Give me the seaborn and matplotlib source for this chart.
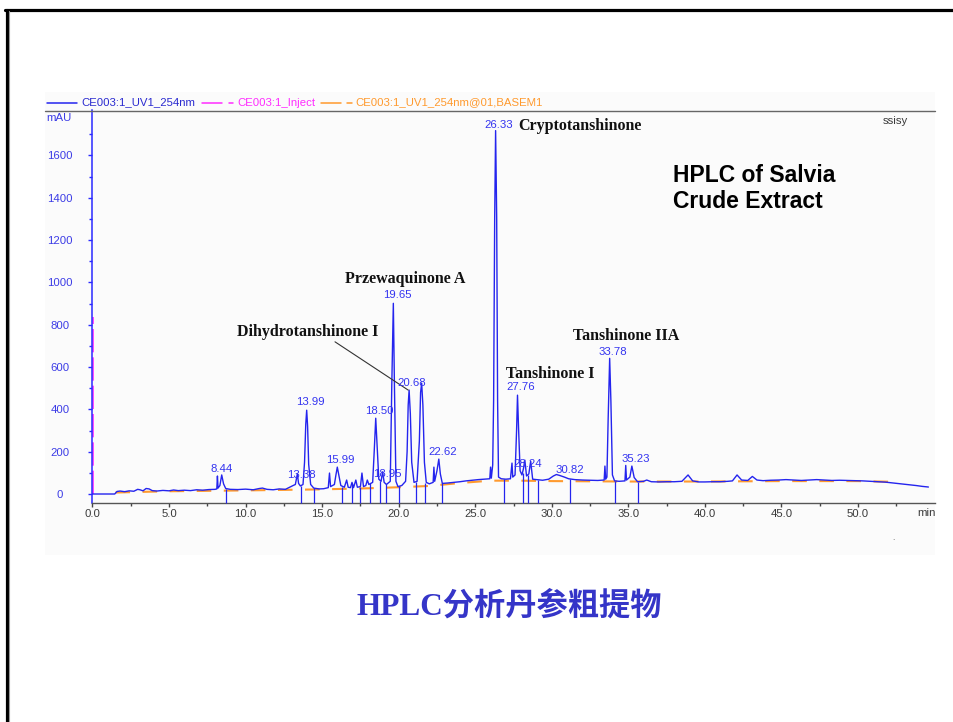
import numpy as np
import pandas as pd
import matplotlib
matplotlib.use("Agg")
import matplotlib.pyplot as plt
from matplotlib.lines import Line2D
from matplotlib.patches import Rectangle
import seaborn as sns

# ---------------------------------------------------------------- data
# UV 254 nm chromatogram trace (retention time in min, absorbance in mAU)
rt_min = [
    0.0, 1.45, 1.6, 1.8, 2.1, 2.4, 2.7, 2.95, 3.1, 3.3, 3.5, 3.7, 3.9, 4.2, 4.6,
    5.0, 5.3, 5.6, 6.0, 6.4, 6.8, 7.2, 7.6, 8.0, 8.12, 8.16, 8.2, 8.32, 8.44,
    8.56, 8.7, 9.0, 9.5, 10.0, 10.5, 10.9, 11.1, 11.4, 11.8, 12.2, 12.6, 12.9,
    13.1, 13.25, 13.38, 13.46, 13.58, 13.75, 13.85, 13.93, 13.99, 14.05, 14.12,
    14.25, 14.45, 14.8, 15.1, 15.4, 15.48, 15.55, 15.8, 15.9, 15.99, 16.1,
    16.22, 16.45, 16.6, 16.7, 16.85, 16.95, 17.05, 17.2, 17.3, 17.5, 17.6,
    17.7, 17.85, 17.95, 18.05, 18.3, 18.4, 18.5, 18.6, 18.7, 18.85, 18.95,
    19.05, 19.2, 19.45, 19.55, 19.65, 19.72, 19.82, 19.95, 20.2, 20.45, 20.55,
    20.62, 20.68, 20.76, 20.85, 21.0, 21.2, 21.35, 21.43, 21.5, 21.58, 21.68,
    21.8, 22.0, 22.25, 22.3, 22.35, 22.5, 22.62, 22.72, 22.85, 23.2, 23.6,
    24.0, 24.4, 24.8, 25.2, 25.6, 25.95, 26.0, 26.05, 26.14, 26.2, 26.27,
    26.33, 26.4, 26.46, 26.52, 26.7, 27.0, 27.3, 27.4, 27.45, 27.6, 27.7,
    27.76, 27.83, 27.93, 28.05, 28.15, 28.24, 28.35, 28.5, 28.62, 28.75, 29.0,
    29.4, 29.8, 30.1, 30.3, 30.5, 30.82, 31.1, 31.5, 32.0, 32.5, 33.0, 33.42,
    33.47, 33.52, 33.6, 33.68, 33.78, 33.86, 33.96, 34.1, 34.4, 34.78, 34.83,
    34.88, 35.1, 35.23, 35.38, 35.6, 36.0, 36.2, 36.5, 37.0, 37.5, 38.0,
    38.5, 38.9, 39.2, 39.6, 40.0, 40.5, 41.0, 41.5, 41.8, 42.1, 42.4, 42.8,
    43.1, 43.4, 43.8, 44.3, 44.8, 45.3, 45.8, 46.3, 46.8, 47.3, 47.8, 48.3,
    48.8, 49.3, 49.8, 50.3, 50.8, 51.3, 51.8, 52.3, 52.8, 53.3, 53.8, 54.2,
    54.6,
]
signal_mau = [
    0, 0, 12, 14, 11, 15, 13, 22, 20, 15, 26, 24, 16, 14, 17,
    15, 19, 16, 18, 16, 20, 18, 21, 22, 24, 85, 28, 40, 90,
    48, 26, 22, 21, 23, 20, 26, 28, 22, 20, 24, 22, 33,
    40, 45, 95, 50, 38, 45, 150, 330, 396, 320, 140,
    45, 28, 24, 25, 30, 99, 35, 45, 90, 127, 85,
    40, 32, 66, 32, 30, 55, 30, 66, 32, 35, 99,
    35, 40, 66, 45, 55, 200, 358, 210, 70, 60, 105,
    55, 45, 60, 520, 901, 520, 60, 35, 40, 60, 200,
    420, 491, 380, 150, 55, 60, 250, 480, 524, 420, 150,
    55, 48, 55, 127, 60, 110, 165, 95, 50, 52, 55,
    58, 62, 65, 68, 70, 72, 127, 75, 137, 443, 1307,
    1717, 1307, 443, 80, 72, 70, 72, 146, 80, 90, 300,
    467, 310, 110, 90, 120, 160, 85, 95, 155, 70, 68,
    65, 70, 85, 92, 88, 80, 72, 68, 66, 65, 64, 66,
    132, 70, 80, 350, 641, 440, 90, 62, 60, 62, 135,
    66, 80, 132, 78, 58, 60, 66, 58, 57, 58, 58,
    60, 90, 62, 57, 57, 58, 58, 60, 62, 90, 66, 64,
    83, 66, 63, 65, 66, 68, 66, 64, 66, 68, 66, 64,
    65, 64, 63, 62, 60, 58, 56, 52, 48, 44, 40, 36,
    33,
]

# BASEM1 baseline (orange, dashed)
base_rt = [1.5, 5.0, 10.0, 15.0, 18.0, 20.0, 22.0, 24.0, 26.0, 28.0, 30.0,
           35.0, 40.0, 45.0, 50.0, 52.0]
base_mau = [7, 13, 17, 22, 27, 32, 38, 52, 63, 63, 61, 59, 59, 61, 61, 58]

# injection marker
inject_rt = [0.04, 0.04]
inject_mau = [0, 835]

# integration event marks (drawn downward from the trace)
mark_rt = [8.75, 13.6, 14.5, 16.3, 16.95, 17.45, 18.15, 18.8, 19.2, 20.05,
           21.1, 21.75, 22.8, 26.9, 28.12, 28.45, 29.1, 31.2, 34.1, 35.6]
mark_top = [26, 40, 28, 35, 50, 34, 50, 60, 45, 38,
            58, 50, 50, 70, 100, 90, 68, 70, 62, 58]

# labelled peaks: retention time, apex (mAU)
peak_rt = [8.44, 13.38, 13.99, 15.99, 18.50, 18.95, 19.65, 20.68, 22.62,
           26.33, 27.76, 28.24, 30.82, 33.78, 35.23]
peak_mau = [90, 95, 396, 127, 358, 105, 901, 491, 165,
            1717, 467, 160, 80, 641, 132]
# label offsets in pixels (dx, dy)
peak_dx = [0, 4.5, 3.5, 3.5, 3.5, 5, 4, 3, 3.5, 3.5, 3.5, 3, 5, 3.5, 4]
peak_dy = [3, -4, 5, 4, 4, -5, 5, 4, 4, 3, 5, -7, 4, 3, 4]

# compound names: text, rt, mAU, horizontal alignment
compound_names = ["Cryptotanshinone", "Przewaquinone A", "Dihydrotanshinone I",
                  "Tanshinone I", "Tanshinone IIA"]
compound_rt = [27.79, 20.41, 14.04, 29.88, 34.85]
compound_mau = [1741, 1017, 767, 569, 746]
compound_ha = ["left", "center", "center", "center", "center"]

y_ticks = [0, 200, 400, 600, 800, 1000, 1200, 1400, 1600]
x_ticks = [0, 5, 10, 15, 20, 25, 30, 35, 40, 45, 50]
x_tick_labels = ["0.0", "5.0", "10.0", "15.0", "20.0", "25.0", "30.0",
                 "35.0", "40.0", "45.0", "50.0"]

legend_names = ["CE003:1_UV1_254nm", "CE003:1_Inject",
                "CE003:1_UV1_254nm@01,BASEM1"]

# ---------------------------------------------------------------- style
W, H, DPI = 954, 722, 100
BLUE = "#2424ee"
LBLUE = "#3434f0"
TICKBLUE = "#3c3ce6"
MAGENTA = "#ff2cff"
ORANGE = "#ff9a2e"
GREY = "#3a3a3a"

sns.set_theme(style="white")
plt.rcParams["font.family"] = ["Liberation Sans", "DejaVu Sans"]

fig = plt.figure(figsize=(W / DPI, H / DPI), dpi=DPI)
fig.patch.set_facecolor("white")


def fx(px):
    return px / W


def fy(py):
    return 1 - py / H


# light panel behind the chromatogram
fig.patches.append(Rectangle((fx(45), fy(555)), fx(935) - fx(45), fy(92) - fy(555),
                             transform=fig.transFigure, facecolor="#fbfbfb",
                             edgecolor="none", zorder=-10))
# slide frame (top and left)
fig.add_artist(Line2D([fx(5), fx(954)], [fy(9.5), fy(9.5)], color="black", lw=2.3))
fig.add_artist(Line2D([fx(7.5), fx(7.5)], [fy(9.5), fy(722)], color="black", lw=2.3))
fig.add_artist(Line2D([fx(9.5), fx(9.5)], [fy(11), fy(722)], color="#9a9a9a", lw=0.8))
# header rule above the plot
fig.add_artist(Line2D([fx(45), fx(935)], [fy(110.5), fy(110.5)], color="#666666", lw=1.0))

ax = fig.add_axes([fx(92.5), fy(503), fx(935) - fx(92.5), fy(110.5) - fy(503)])
ax.set_facecolor("none")

# ---------------------------------------------------------------- marks
base_df = pd.DataFrame({"rt": base_rt, "mAU": base_mau})
sns.lineplot(data=base_df, x="rt", y="mAU", ax=ax, color=ORANGE, lw=1.5,
             estimator=None, sort=False, zorder=2)
ax.lines[-1].set_dashes([7, 6])

inj_df = pd.DataFrame({"rt": inject_rt, "mAU": inject_mau})
sns.lineplot(data=inj_df, x="rt", y="mAU", ax=ax, color=MAGENTA, lw=1.2,
             estimator=None, sort=False, zorder=2)
ax.lines[-1].set_dashes([14, 3])

trace_df = pd.DataFrame({"rt": rt_min, "mAU": signal_mau})
sns.lineplot(data=trace_df, x="rt", y="mAU", ax=ax, color=BLUE, lw=1.0,
             estimator=None, sort=False, zorder=3)

ax.vlines(mark_rt, -42, mark_top, color=BLUE, lw=0.9, zorder=3, clip_on=False)

ax.set_xlim(0, 55.03)
ax.set_ylim(-42.5, 1812)

# peak retention-time labels
for t, h, dx, dy in zip(peak_rt, peak_mau, peak_dx, peak_dy):
    ax.annotate(f"{t:.2f}", xy=(t, h), xytext=(dx, dy), textcoords="offset pixels",
                ha="center", va="baseline", color=LBLUE, fontsize=8.2, zorder=5)

# compound names
for name, t, h, ha in zip(compound_names, compound_rt, compound_mau, compound_ha):
    ax.text(t, h, name, ha=ha, va="center", fontsize=11.5, fontweight="bold",
            family=["Liberation Serif", "DejaVu Serif"], color="#111111", zorder=6)
ax.plot([15.84, 20.62], [719, 491], color="#333333", lw=0.8, zorder=4)

# ---------------------------------------------------------------- axes
for side in ("top", "right"):
    ax.spines[side].set_visible(False)
ax.spines["left"].set_color("#2a2aff")
ax.spines["left"].set_linewidth(1.1)
ax.spines["bottom"].set_color("#555555")
ax.spines["bottom"].set_linewidth(1.0)

ax.set_yticks(y_ticks)
ax.set_yticks(np.arange(100, 1800, 200), minor=True)
ax.set_xticks(x_ticks)
ax.set_xticklabels(x_tick_labels)
ax.set_xticks(np.arange(2.5, 55, 5), minor=True)
ax.tick_params(axis="y", which="major", direction="out", length=3, width=1,
               color="#2a2aff", labelcolor=TICKBLUE, labelsize=8.2, pad=20.4, left=True)
ax.tick_params(axis="y", which="minor", direction="out", length=2, width=1,
               color="#2a2aff", left=True)
for lab in ax.get_yticklabels():
    lab.set_horizontalalignment("center")
ax.tick_params(axis="x", which="major", direction="out", length=3, width=1,
               color="#444444", labelcolor=GREY, labelsize=8.2, pad=1.5, bottom=True)
ax.tick_params(axis="x", which="minor", direction="out", length=2, width=1,
               color="#444444", bottom=True)
ax.set_xlabel("")
ax.set_ylabel("")

fig.text(fx(58.5), fy(118), "mAU", color=TICKBLUE, fontsize=8.2, ha="center", va="center")
fig.text(fx(926), fy(513), "min", color=GREY, fontsize=8.2, ha="center", va="center")
fig.text(fx(895), fy(121), "ssisy", color=GREY, fontsize=8.2, ha="center", va="center")
fig.text(fx(893), fy(539), ".", color="#555555", fontsize=6, ha="center", va="center")

# legend strip
leg_y = fy(103)
fig.add_artist(Line2D([fx(47), fx(77)], [leg_y, leg_y], color=BLUE, lw=1.1))
fig.text(fx(81), fy(102.5), legend_names[0], color="#2a2ad0", fontsize=8.2,
         ha="left", va="center")
fig.add_artist(Line2D([fx(202), fx(222)], [leg_y, leg_y], color=MAGENTA, lw=1.1))
fig.add_artist(Line2D([fx(229), fx(233)], [leg_y, leg_y], color=MAGENTA, lw=1.1))
fig.text(fx(237), fy(102.5), legend_names[1], color=MAGENTA, fontsize=8.2,
         ha="left", va="center")
fig.add_artist(Line2D([fx(321), fx(341)], [leg_y, leg_y], color=ORANGE, lw=1.1))
fig.add_artist(Line2D([fx(347), fx(352)], [leg_y, leg_y], color=ORANGE, lw=1.1))
fig.text(fx(355), fy(102.5), legend_names[2], color=ORANGE, fontsize=8.2,
         ha="left", va="center")

# chart caption inside the plot
fig.text(fx(673), fy(182.5), "HPLC of Salvia", color="black", fontsize=16.5,
         fontweight="bold", ha="left", va="baseline")
fig.text(fx(673), fy(208.5), "Crude Extract", color="black", fontsize=16.5,
         fontweight="bold", ha="left", va="baseline")

# slide title
fig.text(fx(509), fy(606), "HPLC分析丹参粗提物", color="#3535c8", fontsize=22.5,
         fontweight="bold", family=["Liberation Serif", "Noto Sans CJK SC"],
         ha="center", va="center")

fig.savefig("out.png", dpi=DPI)
